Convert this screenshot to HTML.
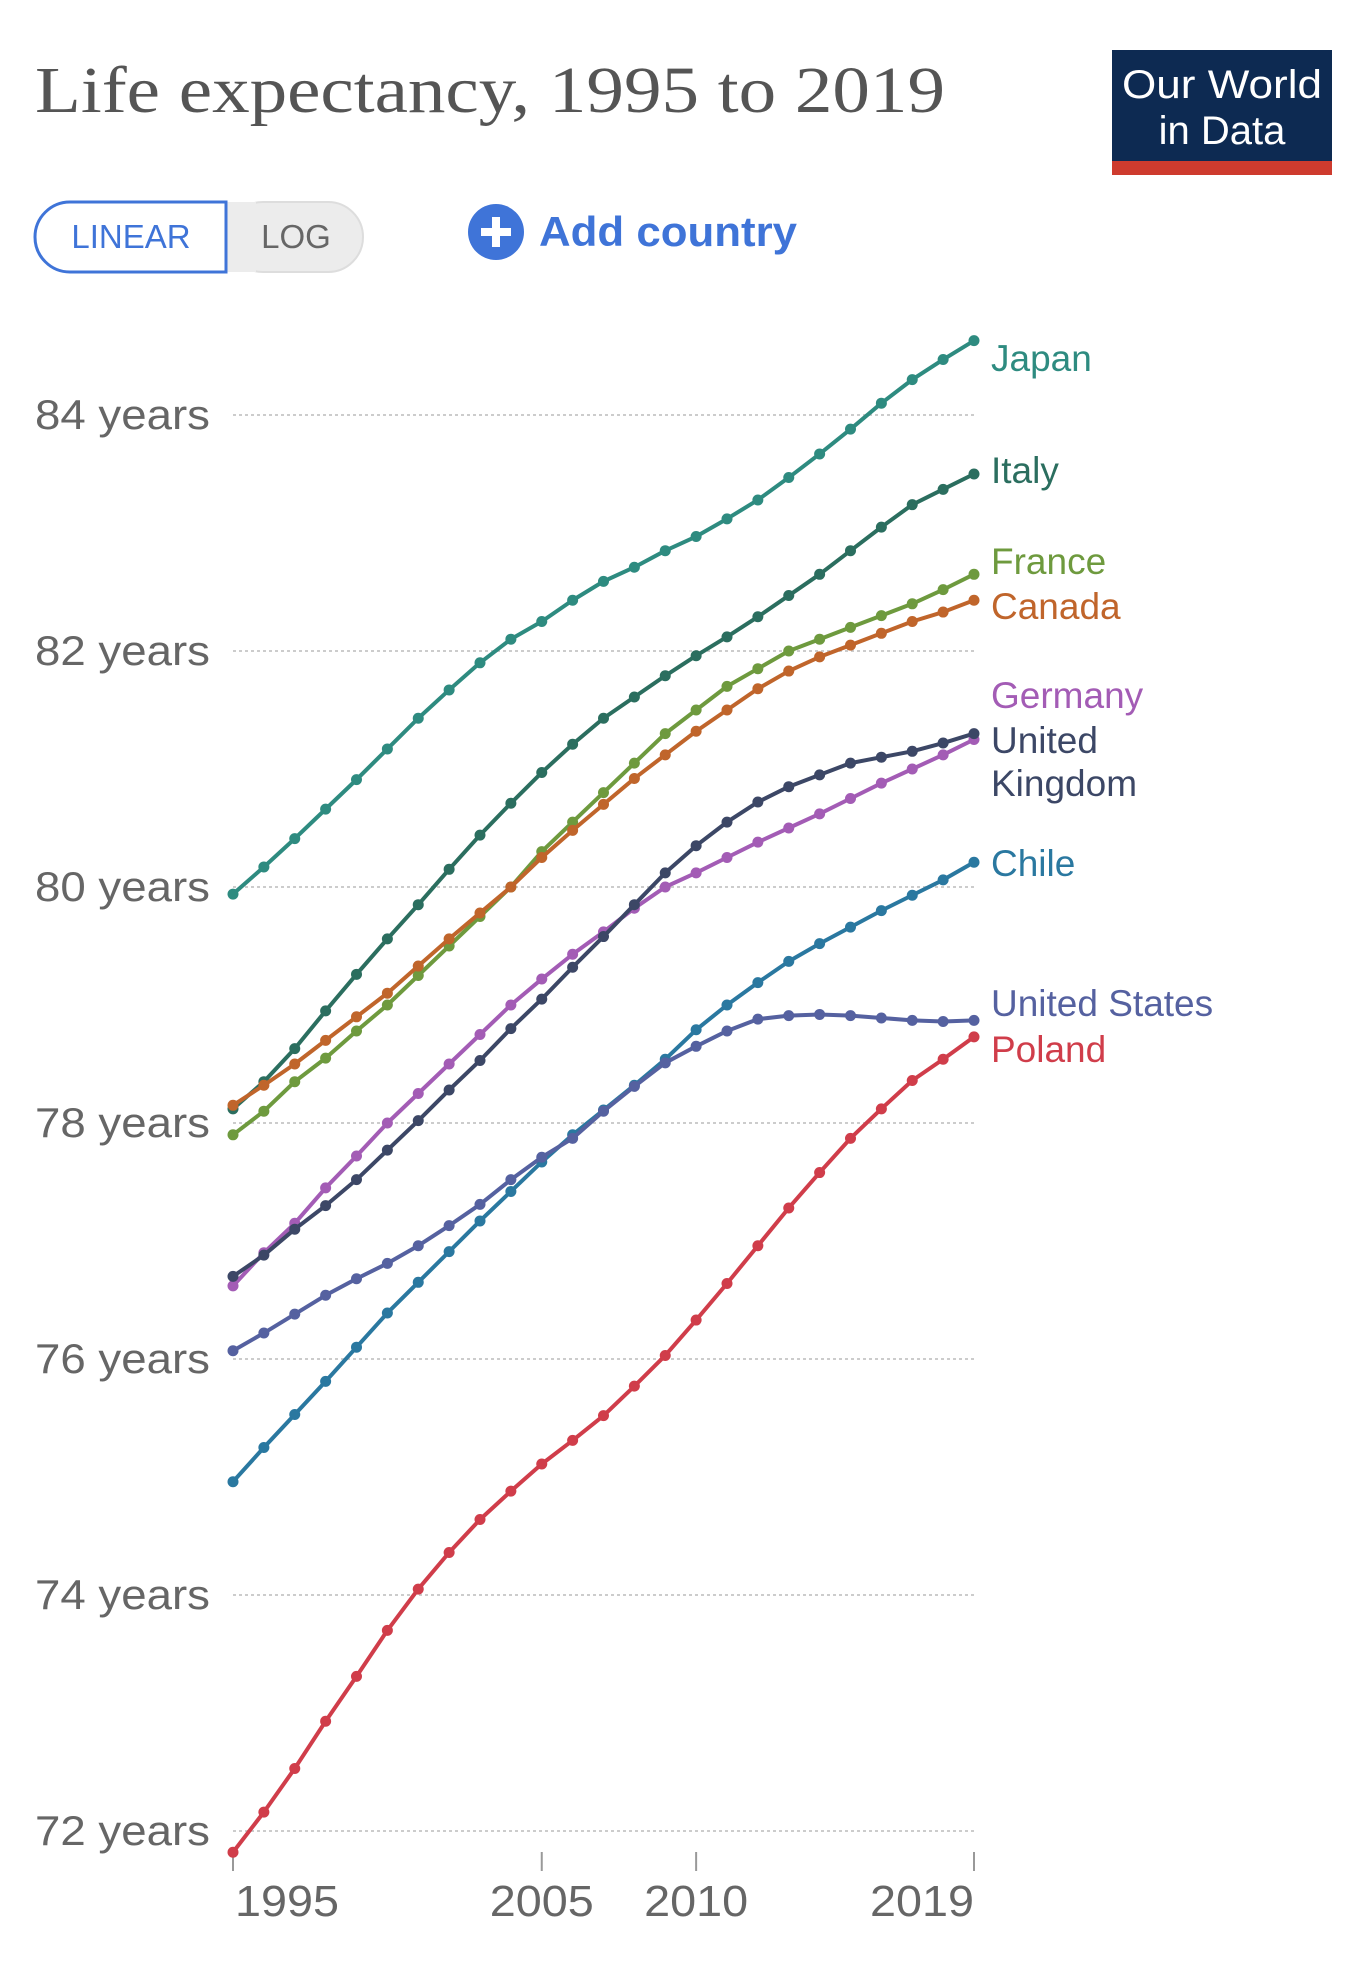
<!DOCTYPE html>
<html><head><meta charset="utf-8">
<style>
body{margin:0;background:#fff;width:1356px;height:1976px;overflow:hidden;font-family:"Liberation Sans",sans-serif}
svg{display:block}
</style></head>
<body>
<svg width="1356" height="1976" viewBox="0 0 1356 1976">
  <text x="35" y="112" font-family="Liberation Serif, serif" font-size="66" fill="#555" textLength="910" lengthAdjust="spacingAndGlyphs">Life expectancy, 1995 to 2019</text>
  <g>
    <rect x="1112" y="50" width="220" height="125" fill="#0d2a52"/>
    <rect x="1112" y="161" width="220" height="14" fill="#ce3b2e"/>
    <text x="1222" y="98" text-anchor="middle" font-size="40" fill="#fff" textLength="200" lengthAdjust="spacingAndGlyphs">Our World</text>
    <text x="1222" y="144" text-anchor="middle" font-size="40" fill="#fff">in Data</text>
  </g>
  <g>
    <rect x="228" y="202" width="135" height="70" rx="35" fill="#ececec" stroke="#ddd" stroke-width="2"/>
    <rect x="226" y="202" width="30" height="70" fill="#ececec"/>
    <path d="M70 202 H226 V272 H70 A35 35 0 0 1 70 202 Z" fill="#fff" stroke="#3f74d8" stroke-width="3"/>
    <text x="131" y="248" text-anchor="middle" font-size="33" fill="#3f74d8">LINEAR</text>
    <text x="296" y="248" text-anchor="middle" font-size="33" fill="#666">LOG</text>
  </g>
  <g>
    <circle cx="496" cy="232" r="28" fill="#3f74d8"/>
    <rect x="481" y="228" width="30" height="8" fill="#fff"/>
    <rect x="492" y="217" width="8" height="30" fill="#fff"/>
    <text x="539" y="246" font-size="42" font-weight="bold" fill="#3f74d8" textLength="258" lengthAdjust="spacingAndGlyphs">Add country</text>
  </g>
  <g id="grid"></g>
  <g id="series"></g>
  <g id="labels"></g>
</svg>
<script>
const years=[1995,1996,1997,1998,1999,2000,2001,2002,2003,2004,2005,2006,2007,2008,2009,2010,2011,2012,2013,2014,2015,2016,2017,2018,2019];
const yTicks=[72,74,76,78,80,82,84];
const xTicks=[1995,2005,2010,2019];
const countries=["Japan","Italy","France","Canada","Germany","United Kingdom","Chile","United States","Poland"];
const colors=["#2e8b80","#2b6e5f","#6e9a3e","#c0652b","#a35cb5","#3c4766","#2a78a0","#5561a0","#d03d4a"];
const japan=[79.94,80.17,80.41,80.66,80.91,81.17,81.43,81.67,81.90,82.10,82.25,82.43,82.59,82.71,82.85,82.97,83.12,83.28,83.47,83.67,83.88,84.10,84.30,84.47,84.63];
const italy=[78.12,78.35,78.63,78.95,79.26,79.56,79.85,80.15,80.44,80.71,80.97,81.21,81.43,81.61,81.79,81.96,82.12,82.29,82.47,82.65,82.85,83.05,83.24,83.37,83.50];
const france=[77.9,78.1,78.35,78.55,78.78,79.0,79.25,79.5,79.75,80.0,80.3,80.55,80.8,81.05,81.3,81.5,81.7,81.85,82.0,82.1,82.2,82.3,82.4,82.52,82.65];
const canada=[78.15,78.32,78.5,78.7,78.9,79.1,79.33,79.56,79.78,80.0,80.25,80.48,80.7,80.92,81.12,81.32,81.5,81.68,81.83,81.95,82.05,82.15,82.25,82.33,82.43];
const germany=[76.62,76.9,77.15,77.45,77.72,78.0,78.25,78.5,78.75,79.0,79.22,79.43,79.62,79.82,80.0,80.12,80.25,80.38,80.5,80.62,80.75,80.88,81.0,81.12,81.25];
const uk=[76.70,76.88,77.1,77.3,77.52,77.77,78.02,78.28,78.53,78.8,79.05,79.32,79.58,79.85,80.12,80.35,80.55,80.72,80.85,80.95,81.05,81.1,81.15,81.22,81.3];
const chile=[74.96,75.25,75.53,75.81,76.10,76.39,76.65,76.91,77.17,77.42,77.67,77.90,78.11,78.32,78.54,78.79,79.0,79.19,79.37,79.52,79.66,79.80,79.93,80.06,80.21];
const us=[76.07,76.22,76.38,76.54,76.68,76.81,76.96,77.13,77.31,77.52,77.71,77.87,78.10,78.31,78.51,78.65,78.78,78.88,78.91,78.92,78.91,78.89,78.87,78.86,78.87];
const poland=[71.82,72.16,72.53,72.93,73.31,73.70,74.05,74.36,74.64,74.88,75.11,75.31,75.52,75.77,76.03,76.33,76.64,76.96,77.28,77.58,77.87,78.12,78.36,78.54,78.73];
const seriesData=[japan,italy,france,canada,germany,uk,chile,us,poland];
const labelLines=[["Japan"],["Italy"],["France"],["Canada"],["Germany"],["United","Kingdom"],["Chile"],["United States"],["Poland"]];
const labelY=[359,471,562,607,696,741,864,1004,1050];

const X0=233,X1=974,Y72=1831,PER2=236;
const x=yr=>X0+(yr-1995)*(X1-X0)/24;
const y=v=>Y72-(v-72)*PER2/2;
const NS="http://www.w3.org/2000/svg";
function mk(tag,attrs,parent){const e=document.createElementNS(NS,tag);for(const k in attrs)e.setAttribute(k,attrs[k]);parent.appendChild(e);return e;}
const grid=document.getElementById('grid');
yTicks.forEach(t=>{
  const l=mk('line',{x1:X0,x2:X1,y1:y(t),y2:y(t),stroke:'#ccc','stroke-width':2,'stroke-dasharray':'3,3'},grid);
  
  
  const tx=mk('text',{x:35,y:y(t)+14,'font-size':42,fill:'#666',textLength:175,lengthAdjust:'spacingAndGlyphs'},grid);
  tx.textContent=t+' years';
  
  
});
xTicks.forEach(t=>{
  const l=mk('line',{x1:x(t),x2:x(t),y1:1852,y2:1871,stroke:'#999','stroke-width':2},grid);
  
  
  const anchor=t===1995?'start':(t===2019?'end':'middle');
  const tx=mk('text',{x:x(t)+(t===1995?2:0),y:1916,'text-anchor':anchor,'font-size':44,fill:'#666',textLength:104,lengthAdjust:'spacingAndGlyphs'},grid);
  tx.textContent=t;
  
  
});
const sg=document.getElementById('series');
const lg=document.getElementById('labels');
seriesData.forEach((d,i)=>{
  const g=mk('g',{},sg);
  
  
  const pts=d.map((v,j)=>x(years[j])+','+y(v)).join(' ');
  mk('polyline',{points:pts,fill:'none',stroke:colors[i],'stroke-width':4,'stroke-linejoin':'round'},g);
  d.forEach((v,j)=>{
    const c=mk('circle',{cx:x(years[j]),cy:y(v),r:5.5,fill:colors[i]},g);
    
    
  });
  labelLines[i].forEach((ln,k)=>{
    const t=mk('text',{x:991,y:labelY[i]+12+k*43,'font-size':37,fill:colors[i]},lg);
    t.textContent=ln;
    
    
  });
});
</script>
</body></html>
